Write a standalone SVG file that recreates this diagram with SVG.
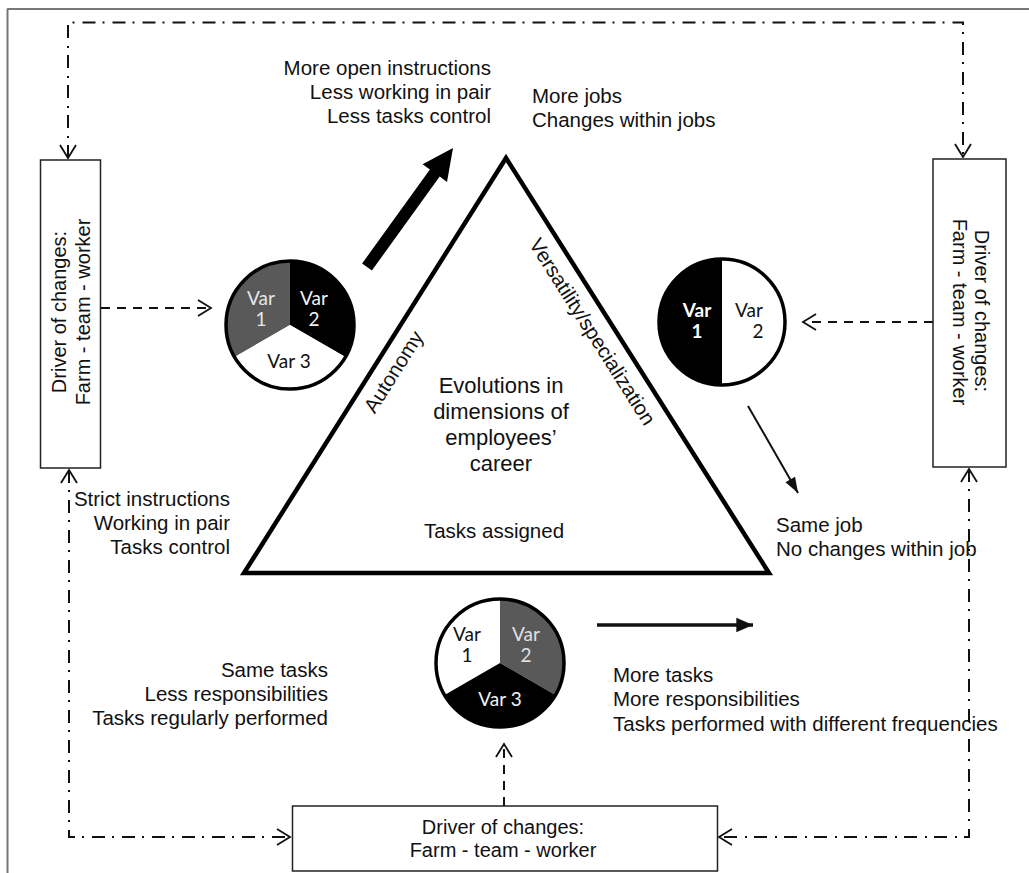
<svg xmlns="http://www.w3.org/2000/svg" width="1029" height="873" viewBox="0 0 1029 873">
<style>
.t{font-family:"Liberation Sans",Arial,sans-serif;font-size:20.5px;fill:#111}
.c{font-family:"Liberation Sans",Arial,sans-serif;font-size:22px;fill:#111}
.b{font-family:"Liberation Sans",Arial,sans-serif;font-size:20px;fill:#111}
.v{font-family:Lato,"Open Sans",sans-serif;font-size:19px}
.box{fill:#fff;stroke:#222;stroke-width:1.5}
.dd{fill:none;stroke:#111;stroke-width:2;stroke-dasharray:13 7 2 8}
.da{fill:none;stroke:#111;stroke-width:2;stroke-dasharray:9 7}
.end{text-anchor:end}
.mid{text-anchor:middle}
</style>
<defs>
<marker id="chev" markerUnits="userSpaceOnUse" markerWidth="20" markerHeight="20" viewBox="-14 -10 16 20" refX="0" refY="0" orient="auto-start-reverse">
<path d="M-13,-8 L0,0 L-13,8" fill="none" stroke="#111" stroke-width="1.8"/>
</marker>
<marker id="fill" markerUnits="userSpaceOnUse" markerWidth="20" markerHeight="20" viewBox="-16 -8 18 16" refX="0" refY="0" orient="auto">
<path d="M-15,-6.5 L0,0 L-15,6.5 Z" fill="#111"/>
</marker>
<marker id="fill2" markerUnits="userSpaceOnUse" markerWidth="20" markerHeight="20" viewBox="-16 -8 18 16" refX="0" refY="0" orient="auto">
<path d="M-14,-5 L0,0 L-14,5 Z" fill="#111"/>
</marker>
</defs>
<rect width="1029" height="873" fill="#fff"/>
<g id="frame">
<line x1="7" y1="9" x2="1029" y2="9" stroke="#777" stroke-width="2"/>
<line x1="7.5" y1="9" x2="7.5" y2="873" stroke="#777" stroke-width="2"/>
</g>
<g id="connectors">
<path class="dd" d="M68,158 V22.5 H963 V157" marker-start="url(#chev)" marker-end="url(#chev)"/>
<path class="dd" d="M69,470 V837 H290" marker-start="url(#chev)" marker-end="url(#chev)"/>
<path class="dd" d="M969,469 V837 H719" marker-start="url(#chev)" marker-end="url(#chev)"/>
<path class="da" d="M101,308 H211" marker-end="url(#chev)"/>
<path class="da" d="M933,322 H803" marker-end="url(#chev)"/>
<path class="da" d="M504,806 V744" marker-end="url(#chev)"/>
<polygon points="371.9,270.5 439.7,176.6 447,181.9 453,148 422.6,164.3 429.9,169.6 362.1,263.5" fill="#000"/>
<line x1="748" y1="406" x2="798" y2="493" stroke="#111" stroke-width="2" marker-end="url(#fill2)"/>
<line x1="597" y1="625" x2="753" y2="625" stroke="#111" stroke-width="3.5" marker-end="url(#fill)"/>
</g>
<g id="triangle">
<polygon points="506,158 244,573 769,573" fill="#fff" stroke="#000" stroke-width="4.5"/>
<text class="t mid" font-size="19" transform="translate(394,372) rotate(-57.7)" y="6.5">Autonomy</text>
<text class="t mid" font-size="19.5" transform="translate(592,332) rotate(57.6)" y="6.5">Versatility/specialization</text>
<text class="c mid" x="501" y="393">Evolutions in</text>
<text class="c mid" x="501" y="419">dimensions of</text>
<text class="c mid" x="501" y="445">employees’</text>
<text class="c mid" x="501" y="471">career</text>
<text class="t mid" x="494" y="538">Tasks assigned</text>
</g>
<g id="box-left">
<rect class="box" x="40.5" y="160" width="60" height="308"/>
<text class="b mid" transform="translate(66,312) rotate(-90)">Driver of changes:</text>
<text class="b mid" transform="translate(89.5,312) rotate(-90)">Farm - team - worker</text>
</g>
<g id="box-right">
<rect class="box" x="933" y="159" width="73" height="308"/>
<text class="b mid" transform="translate(975,311) rotate(90)">Driver of changes:</text>
<text class="b mid" transform="translate(952.5,312) rotate(90)">Farm - team - worker</text>
</g>
<g id="box-bottom">
<rect class="box" x="292.5" y="806" width="425" height="65"/>
<text class="b mid" x="503" y="834">Driver of changes:</text>
<text class="b mid" x="503" y="857">Farm - team - worker</text>
</g>
<g id="pie-left">
<path d="M290,325 L290,261 A64,64 0 0 0 234.6,357 Z" fill="#595959"/>
<path d="M290,325 L290,261 A64,64 0 0 1 345.4,357 Z" fill="#000"/>
<path d="M290,325 L345.4,357 A64,64 0 0 1 234.6,357 Z" fill="#fff"/>
<circle cx="290" cy="325" r="64" fill="none" stroke="#000" stroke-width="3.5"/>
<text class="v mid" fill="#e6e6e6"><tspan x="261" y="305">Var</tspan><tspan x="261" y="326">1</tspan></text>
<text class="v mid" fill="#f2f2f2"><tspan x="314" y="305">Var</tspan><tspan x="314" y="326">2</tspan></text>
<text class="v mid" fill="#111" x="289" y="368">Var 3</text>
</g>
<g id="pie-right">
<path d="M722,259 A63,63 0 0 0 722,385 Z" fill="#000"/>
<path d="M722,259 A63,63 0 0 1 722,385 Z" fill="#fff"/>
<circle cx="722" cy="322" r="63" fill="none" stroke="#000" stroke-width="3.5"/>
<text class="v mid" fill="#fff" font-weight="bold"><tspan x="697" y="317">Var</tspan><tspan x="697" y="338">1</tspan></text>
<text class="v mid" fill="#111"><tspan x="749" y="317">Var</tspan><tspan x="758" y="338">2</tspan></text>
</g>
<g id="pie-bottom">
<path d="M500,663 L500,599 A64,64 0 0 0 444.6,695 Z" fill="#fff"/>
<path d="M500,663 L500,599 A64,64 0 0 1 555.4,695 Z" fill="#595959"/>
<path d="M500,663 L555.4,695 A64,64 0 0 1 444.6,695 Z" fill="#000"/>
<circle cx="500" cy="663" r="64" fill="none" stroke="#000" stroke-width="3.5"/>
<text class="v mid" fill="#111"><tspan x="467" y="641">Var</tspan><tspan x="467" y="662">1</tspan></text>
<text class="v mid" fill="#e0e0e0"><tspan x="526" y="641">Var</tspan><tspan x="526" y="662">2</tspan></text>
<text class="v mid" fill="#f2f2f2" x="500" y="706">Var 3</text>
</g>
<g id="labels">
<text class="t end" x="491" y="75">More open instructions</text>
<text class="t end" x="491" y="99">Less working in pair</text>
<text class="t end" x="491" y="123">Less tasks control</text>
<text class="t" x="532" y="103">More jobs</text>
<text class="t" x="532" y="127">Changes within jobs</text>
<text class="t end" x="230" y="506">Strict instructions</text>
<text class="t end" x="230" y="530">Working in pair</text>
<text class="t end" x="230" y="554">Tasks control</text>
<text class="t" x="776" y="532">Same job</text>
<text class="t" x="776" y="556">No changes within job</text>
<text class="t end" x="328" y="677">Same tasks</text>
<text class="t end" x="328" y="701">Less responsibilities</text>
<text class="t end" x="328" y="725">Tasks regularly performed</text>
<text class="t" x="613" y="682">More tasks</text>
<text class="t" x="613" y="706">More responsibilities</text>
<text class="t" x="613" y="731">Tasks performed with different frequencies</text>
</g>
</svg>
